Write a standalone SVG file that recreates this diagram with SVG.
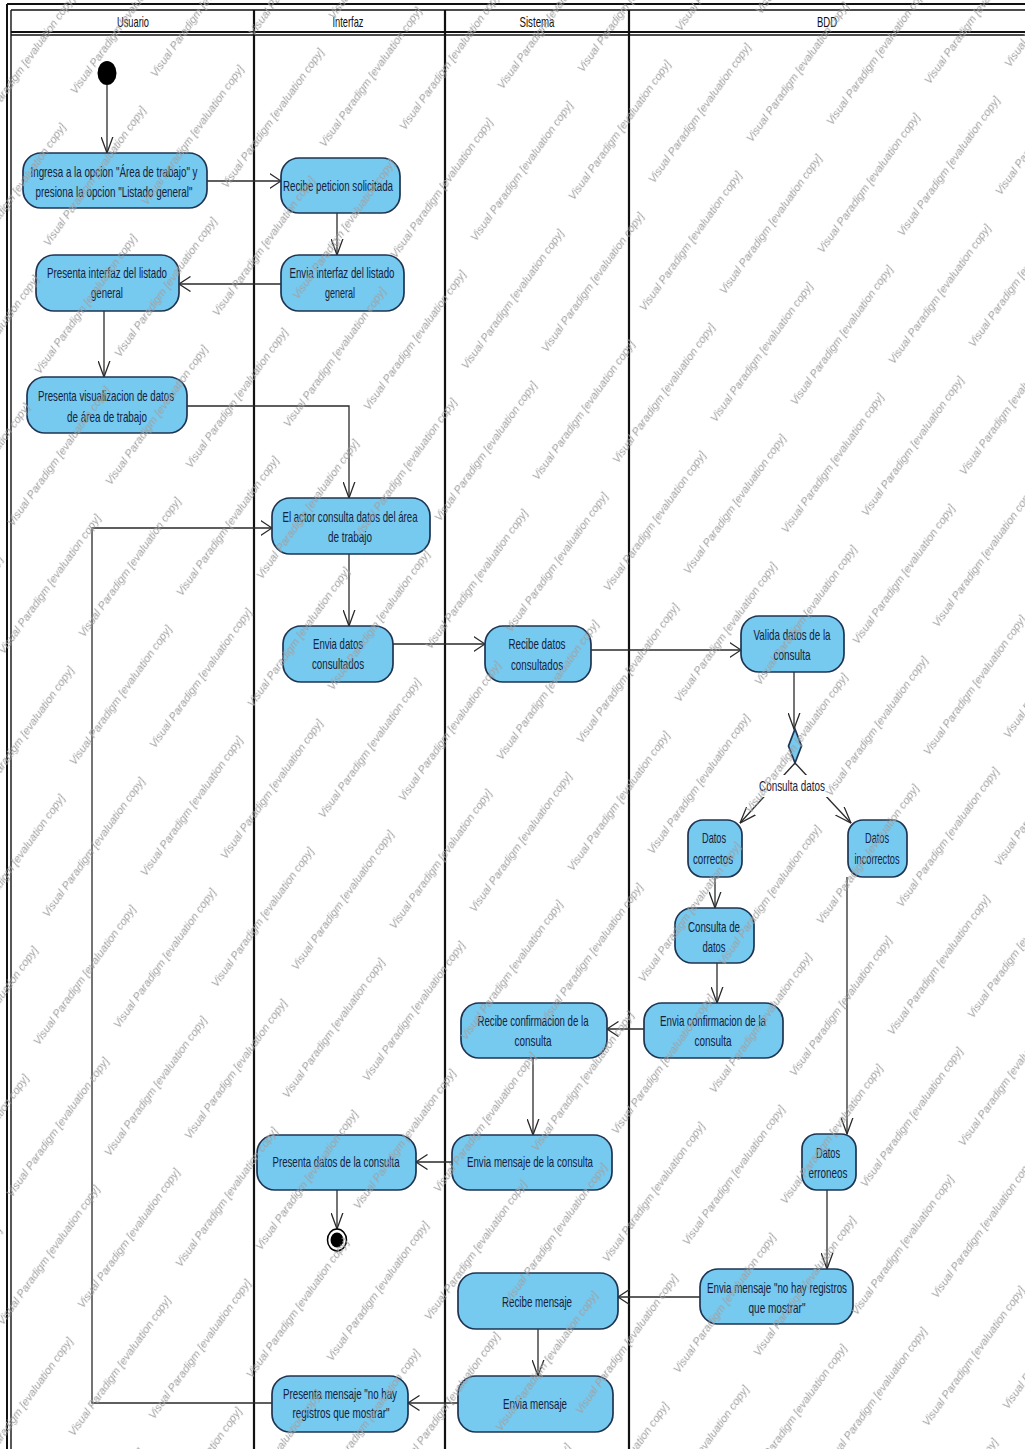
<svg xmlns="http://www.w3.org/2000/svg" xmlns:xlink="http://www.w3.org/1999/xlink" width="1025" height="1449" viewBox="0 0 1025 1449">
  <style>
    .act { fill: #76c9ef; stroke: #1f3452; stroke-width: 1.7; }
    .lbl { font-family: "Liberation Sans Narrow", "Liberation Sans", Arial, sans-serif; font-size: 14.5px; fill: #14223d; text-anchor: middle; }
    .hdr { font-family: "Liberation Sans Narrow", "Liberation Sans", Arial, sans-serif; font-size: 15px; fill: #111; text-anchor: middle; }
    .edge { fill: none; stroke: #2a2a2a; stroke-width: 1.3; }
    .lane { stroke: #111; stroke-width: 2.2; fill: none; }
    .frame { stroke: #111; fill: none; }
    .wmt { font-family: "Liberation Sans", Arial, sans-serif; font-size: 11px; font-style: italic; fill: #a0a0a0; }
  </style>
  <defs>
    <!-- open arrowheads: horizontal flows and vertical flows -->
    <marker id="ah" viewBox="0 0 12 16" refX="11.5" refY="8" markerWidth="12" markerHeight="16" markerUnits="userSpaceOnUse" orient="auto">
      <path d="M0,0.5 L11.5,8 L0,15.5" fill="none" stroke="#2a2a2a" stroke-width="1.3"/>
    </marker>
    <marker id="av" viewBox="0 0 17 13" refX="16.5" refY="6.5" markerWidth="17" markerHeight="13" markerUnits="userSpaceOnUse" orient="auto">
      <path d="M0,0.5 L16.5,6.5 L0,12.5" fill="none" stroke="#2a2a2a" stroke-width="1.3"/>
    </marker>

    <!-- watermark stamp, repeated on a slanted lattice T=(178,-58), R=(71,111) -->
    <text id="vp" class="wmt" x="0" y="0" transform="rotate(-54.5)" textLength="168" lengthAdjust="spacingAndGlyphs">Visual Paradigm [evaluation copy]</text>
    <g id="vp-pair">
      <use xlink:href="#vp" x="75.7" y="94.7"/>
      <use xlink:href="#vp" x="155.7" y="77.7"/>
    </g>
    <pattern id="wm" patternUnits="userSpaceOnUse" x="0" y="0" width="1000" height="1000" patternTransform="matrix(0.178 -0.058 0.071 0.111 0 0)">
      <g transform="matrix(4.649 2.429 -2.974 7.455 0 0)">
        <use xlink:href="#vp-pair" x="-249" y="-53"/>
        <use xlink:href="#vp-pair" x="-178" y="58"/>
        <use xlink:href="#vp-pair" x="-107" y="169"/>
        <use xlink:href="#vp-pair" x="-71" y="-111"/>
        <use xlink:href="#vp-pair" x="0" y="0"/>
        <use xlink:href="#vp-pair" x="71" y="111"/>
        <use xlink:href="#vp-pair" x="107" y="-169"/>
        <use xlink:href="#vp-pair" x="178" y="-58"/>
        <use xlink:href="#vp-pair" x="249" y="53"/>
      </g>
    </pattern>
  </defs>

  <rect x="0" y="0" width="1025" height="1449" fill="#ffffff"/>

  <!-- swimlane frame -->
  <g id="swimlanes">
    <line class="frame" x1="7" y1="4" x2="1025" y2="4" stroke-width="2"/>
    <line class="frame" x1="11" y1="10" x2="1025" y2="10" stroke-width="1.4"/>
    <line class="frame" x1="7" y1="4" x2="7" y2="1449" stroke-width="2"/>
    <line class="frame" x1="11" y1="10" x2="11" y2="1449" stroke-width="1.4"/>
    <line class="frame" x1="11" y1="32" x2="1025" y2="32" stroke-width="2"/>
    <line class="frame" x1="11" y1="35" x2="1025" y2="35" stroke-width="1.4"/>
    <line class="lane" x1="254" y1="10" x2="254" y2="1449"/>
    <line class="lane" x1="445" y1="10" x2="445" y2="1449"/>
    <line class="lane" x1="629" y1="10" x2="629" y2="1449"/>
    <text class="hdr" x="133" y="27" textLength="32" lengthAdjust="spacingAndGlyphs">Usuario</text>
    <text class="hdr" x="348" y="27" textLength="31" lengthAdjust="spacingAndGlyphs">Interfaz</text>
    <text class="hdr" x="537" y="27" textLength="35" lengthAdjust="spacingAndGlyphs">Sistema</text>
    <text class="hdr" x="827" y="27" textLength="20" lengthAdjust="spacingAndGlyphs">BDD</text>
  </g>

  <!-- control flows -->
  <g id="connectors">
    <line class="edge" x1="107" y1="85" x2="107" y2="153" marker-end="url(#av)"/>
    <line class="edge" x1="207" y1="181" x2="281" y2="181" marker-end="url(#ah)"/>
    <line class="edge" x1="337" y1="213" x2="337" y2="255" marker-end="url(#av)"/>
    <line class="edge" x1="281" y1="284" x2="179" y2="284" marker-end="url(#ah)"/>
    <line class="edge" x1="104" y1="311" x2="104" y2="377" marker-end="url(#av)"/>
    <polyline class="edge" points="187,406 349,406 349,498" marker-end="url(#av)"/>
    <line class="edge" x1="349" y1="554" x2="349" y2="626" marker-end="url(#av)"/>
    <line class="edge" x1="393" y1="644" x2="485" y2="644" marker-end="url(#ah)"/>
    <line class="edge" x1="591" y1="650" x2="741" y2="650" marker-end="url(#ah)"/>
    <line class="edge" x1="794" y1="672" x2="794" y2="729" marker-end="url(#av)"/>
    <line class="edge" x1="795" y1="763" x2="740" y2="823" marker-end="url(#av)"/>
    <line class="edge" x1="795" y1="763" x2="851" y2="823" marker-end="url(#av)"/>
    <line class="edge" x1="715" y1="877" x2="715" y2="908" marker-end="url(#av)"/>
    <line class="edge" x1="717" y1="963" x2="717" y2="1003" marker-end="url(#av)"/>
    <line class="edge" x1="644" y1="1029" x2="607" y2="1029" marker-end="url(#ah)"/>
    <line class="edge" x1="533" y1="1058" x2="533" y2="1135" marker-end="url(#av)"/>
    <line class="edge" x1="452" y1="1162" x2="416" y2="1162" marker-end="url(#ah)"/>
    <line class="edge" x1="337" y1="1190" x2="337" y2="1229" marker-end="url(#av)"/>
    <line class="edge" x1="847" y1="877" x2="847" y2="1134" marker-end="url(#av)"/>
    <line class="edge" x1="827" y1="1190" x2="827" y2="1269" marker-end="url(#av)"/>
    <line class="edge" x1="700" y1="1297" x2="618" y2="1297" marker-end="url(#ah)"/>
    <line class="edge" x1="538" y1="1329" x2="538" y2="1376" marker-end="url(#av)"/>
    <line class="edge" x1="458" y1="1403" x2="408" y2="1403" marker-end="url(#ah)"/>
    <polyline class="edge" points="272,1403 92,1403 92,528 272,528" marker-end="url(#ah)"/>
  </g>

  <!-- initial and final nodes -->
  <g id="start">
    <ellipse cx="107" cy="73" rx="9.5" ry="12" fill="#000"/>
  </g>
  <g id="end">
    <ellipse cx="337" cy="1240" rx="9.5" ry="11" fill="#fff" stroke="#000" stroke-width="1.5"/>
    <ellipse cx="337" cy="1240" rx="6.5" ry="7.5" fill="#000"/>
  </g>

  <!-- Usuario -->
  <g id="ingresa-opcion">
    <rect class="act" x="23" y="153" width="184" height="55" rx="18"/>
    <text class="lbl" x="114" y="177" textLength="167" lengthAdjust="spacingAndGlyphs">Ingresa a la opcion "Área de trabajo" y</text>
    <text class="lbl" x="114" y="197" textLength="157" lengthAdjust="spacingAndGlyphs">presiona la opcion "Listado general"</text>
  </g>
  <g id="presenta-interfaz">
    <rect class="act" x="36" y="255" width="143" height="56" rx="18"/>
    <text class="lbl" x="107" y="278" textLength="120" lengthAdjust="spacingAndGlyphs">Presenta interfaz del listado</text>
    <text class="lbl" x="107" y="298" textLength="32" lengthAdjust="spacingAndGlyphs">general</text>
  </g>
  <g id="presenta-visualizacion">
    <rect class="act" x="27" y="377" width="160" height="56" rx="18"/>
    <text class="lbl" x="106" y="401" textLength="136" lengthAdjust="spacingAndGlyphs">Presenta visualizacion de datos</text>
    <text class="lbl" x="107" y="422" textLength="80" lengthAdjust="spacingAndGlyphs">de área de trabajo</text>
  </g>

  <!-- Interfaz -->
  <g id="recibe-peticion">
    <rect class="act" x="281" y="158" width="119" height="55" rx="18"/>
    <text class="lbl" x="338" y="191" textLength="110" lengthAdjust="spacingAndGlyphs">Recibe peticion solicitada</text>
  </g>
  <g id="envia-interfaz">
    <rect class="act" x="281" y="255" width="123" height="56" rx="18"/>
    <text class="lbl" x="342" y="278" textLength="105" lengthAdjust="spacingAndGlyphs">Envia interfaz del listado</text>
    <text class="lbl" x="340" y="298" textLength="30" lengthAdjust="spacingAndGlyphs">general</text>
  </g>
  <g id="actor-consulta">
    <rect class="act" x="272" y="498" width="158" height="56" rx="18"/>
    <text class="lbl" x="350" y="522" textLength="135" lengthAdjust="spacingAndGlyphs">El actor consulta datos del área</text>
    <text class="lbl" x="350" y="542" textLength="44" lengthAdjust="spacingAndGlyphs">de trabajo</text>
  </g>
  <g id="envia-datos">
    <rect class="act" x="283" y="626" width="110" height="56" rx="18"/>
    <text class="lbl" x="338" y="649" textLength="50" lengthAdjust="spacingAndGlyphs">Envia datos</text>
    <text class="lbl" x="338" y="669" textLength="52" lengthAdjust="spacingAndGlyphs">consultados</text>
  </g>
  <g id="presenta-datos">
    <rect class="act" x="257" y="1135" width="159" height="55" rx="18"/>
    <text class="lbl" x="336" y="1167" textLength="127" lengthAdjust="spacingAndGlyphs">Presenta datos de la consulta</text>
  </g>
  <g id="presenta-mensaje">
    <rect class="act" x="272" y="1376" width="136" height="56" rx="18"/>
    <text class="lbl" x="340" y="1399" textLength="114" lengthAdjust="spacingAndGlyphs">Presenta mensaje "no hay</text>
    <text class="lbl" x="341" y="1418" textLength="97" lengthAdjust="spacingAndGlyphs">registros que mostrar"</text>
  </g>

  <!-- Sistema -->
  <g id="recibe-datos">
    <rect class="act" x="485" y="626" width="106" height="56" rx="18"/>
    <text class="lbl" x="537" y="649" textLength="57" lengthAdjust="spacingAndGlyphs">Recibe datos</text>
    <text class="lbl" x="537" y="670" textLength="52" lengthAdjust="spacingAndGlyphs">consultados</text>
  </g>
  <g id="recibe-confirmacion">
    <rect class="act" x="461" y="1003" width="146" height="55" rx="18"/>
    <text class="lbl" x="533" y="1026" textLength="111" lengthAdjust="spacingAndGlyphs">Recibe confirmacion de la</text>
    <text class="lbl" x="533" y="1046" textLength="37" lengthAdjust="spacingAndGlyphs">consulta</text>
  </g>
  <g id="envia-mensaje-consulta">
    <rect class="act" x="452" y="1135" width="160" height="55" rx="18"/>
    <text class="lbl" x="530" y="1167" textLength="126" lengthAdjust="spacingAndGlyphs">Envia mensaje de la consulta</text>
  </g>
  <g id="recibe-mensaje">
    <rect class="act" x="458" y="1273" width="160" height="56" rx="18"/>
    <text class="lbl" x="537" y="1307" textLength="70" lengthAdjust="spacingAndGlyphs">Recibe mensaje</text>
  </g>
  <g id="envia-mensaje">
    <rect class="act" x="458" y="1376" width="155" height="56" rx="18"/>
    <text class="lbl" x="535" y="1409" textLength="64" lengthAdjust="spacingAndGlyphs">Envia mensaje</text>
  </g>

  <!-- BDD -->
  <g id="valida-datos">
    <rect class="act" x="741" y="616" width="103" height="56" rx="18"/>
    <text class="lbl" x="792" y="640" textLength="77" lengthAdjust="spacingAndGlyphs">Valida datos de la</text>
    <text class="lbl" x="792" y="660" textLength="37" lengthAdjust="spacingAndGlyphs">consulta</text>
  </g>
  <g id="decision">
    <polygon class="act" points="795,729 801.5,746 795,763 788.5,746"/>
    <rect x="757" y="775" width="71" height="22" fill="#ffffff"/>
    <text class="lbl" x="792" y="791" textLength="66" lengthAdjust="spacingAndGlyphs">Consulta datos</text>
  </g>
  <g id="datos-correctos">
    <rect class="act" x="688" y="820" width="54" height="57" rx="15"/>
    <text class="lbl" x="714" y="843" textLength="24" lengthAdjust="spacingAndGlyphs">Datos</text>
    <text class="lbl" x="713" y="864" textLength="40" lengthAdjust="spacingAndGlyphs">correctos</text>
  </g>
  <g id="datos-incorrectos">
    <rect class="act" x="848" y="820" width="59" height="57" rx="15"/>
    <text class="lbl" x="877" y="843" textLength="24" lengthAdjust="spacingAndGlyphs">Datos</text>
    <text class="lbl" x="877" y="864" textLength="45" lengthAdjust="spacingAndGlyphs">incorrectos</text>
  </g>
  <g id="consulta-de-datos">
    <rect class="act" x="675" y="908" width="79" height="55" rx="17"/>
    <text class="lbl" x="714" y="932" textLength="52" lengthAdjust="spacingAndGlyphs">Consulta de</text>
    <text class="lbl" x="714" y="952" textLength="23" lengthAdjust="spacingAndGlyphs">datos</text>
  </g>
  <g id="envia-confirmacion">
    <rect class="act" x="644" y="1003" width="139" height="55" rx="18"/>
    <text class="lbl" x="713" y="1026" textLength="106" lengthAdjust="spacingAndGlyphs">Envia confirmacion de la</text>
    <text class="lbl" x="713" y="1046" textLength="37" lengthAdjust="spacingAndGlyphs">consulta</text>
  </g>
  <g id="datos-erroneos">
    <rect class="act" x="802" y="1134" width="54" height="56" rx="15"/>
    <text class="lbl" x="828" y="1158" textLength="24" lengthAdjust="spacingAndGlyphs">Datos</text>
    <text class="lbl" x="828" y="1178" textLength="39" lengthAdjust="spacingAndGlyphs">erroneos</text>
  </g>
  <g id="envia-no-registros">
    <rect class="act" x="700" y="1269" width="153" height="55" rx="18"/>
    <text class="lbl" x="777" y="1293" textLength="140" lengthAdjust="spacingAndGlyphs">Envia mensaje "no hay registros</text>
    <text class="lbl" x="777" y="1313" textLength="57" lengthAdjust="spacingAndGlyphs">que mostrar"</text>
  </g>

  <!-- evaluation watermark over the whole sheet -->
  <rect id="watermark" x="0" y="0" width="1025" height="1449" fill="url(#wm)"/>
</svg>
